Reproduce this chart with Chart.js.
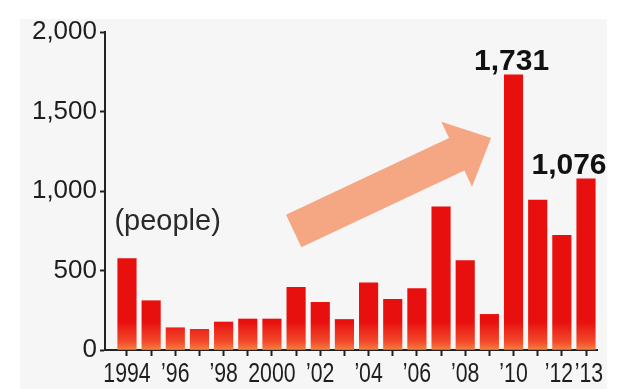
<!DOCTYPE html>
<html><head><meta charset="utf-8">
<script src="https://cdn.jsdelivr.net/npm/chart.js@4.4.1/dist/chart.umd.min.js"></script>
<style>
html,body{margin:0;padding:0;background:#fff;}
#bg{position:absolute;left:20px;top:19px;width:587px;height:370px;background:#f6f6f6;}
#wrap{position:absolute;left:0;top:0;width:621px;height:389px;}
</style></head><body>
<div id="bg"></div>
<div id="wrap"><canvas id="c" width="621" height="389"></canvas></div>
<script>
const years = [1994,1995,1996,1997,1998,1999,2000,2001,2002,2003,2004,2005,2006,2007,2008,2009,2010,2011,2012,2013];
const people = [575,310,140,130,176,195,195,394,300,192,423,319,386,901,562,224,1731,943,721,1076];
const xTickLabels = {1994:'1994',1996:'\u201996',1998:'\u201998',2000:'2000',2002:'\u201902',2004:'\u201904',2006:'\u201906',2008:'\u201908',2010:'\u201910',2012:'\u201912',2013:'\u201913'};
const yTicks = [0,500,1000,1500,2000];
const labeledYears = [2010,2013];
const labeledTexts = ['1,731','1,076'];
const unitLabel = '(people)';
const arrowFrom = {x:2000.9, y:748};
const arrowTo = {x:2009.07, y:1333};

// horizontally condense the x tick labels (reference uses a narrow face)
const xLabelSquash = {
  id:'xLabelSquash',
  beforeDraw(chart){
    const xs = chart.scales.x;
    if (!xs || xs._squashed) return;
    const orig = xs.drawLabels.bind(xs);
    xs.drawLabels = function(area){
      const ctx = this.ctx;
      const proto = Object.getPrototypeOf(ctx);
      ctx.rotate = function(a){ proto.rotate.call(this,a); proto.scale.call(this,0.76,1); };
      try { orig(area); } finally { delete ctx.rotate; }
    };
    xs._squashed = true;
  }
};

const overlay = {
  id:'overlay',
  afterDatasetsDraw(chart){
    const c = chart.ctx, xs = chart.scales.x, ys = chart.scales.y;
    const labelDx = [-2,-17];
    c.save();
    c.font = 'bold 30px "Liberation Sans", Arial, sans-serif';
    c.fillStyle = '#111';
    c.textAlign = 'center';
    c.textBaseline = 'alphabetic';
    labeledYears.forEach((yr,i)=>{
      const idx = years.indexOf(yr);
      c.fillText(labeledTexts[i], xs.getPixelForValue(yr)+labelDx[i], ys.getPixelForValue(people[idx])-5);
    });
    c.font = '29px "Liberation Sans", Arial, sans-serif';
    c.fillStyle = '#2a2a2a';
    c.textAlign = 'left';
    c.textBaseline = 'middle';
    c.fillText(unitLabel, xs.getPixelForValue(1993.48), ys.getPixelForValue(805));
    const x0 = xs.getPixelForValue(arrowFrom.x), y0 = ys.getPixelForValue(arrowFrom.y);
    const x1 = xs.getPixelForValue(arrowTo.x), y1 = ys.getPixelForValue(arrowTo.y);
    const L = Math.hypot(x1-x0,y1-y0), ux=(x1-x0)/L, uy=(y1-y0)/L, nx=-uy, ny=ux;
    const sw=18, hw=36, hl=38;
    const bx = x1-ux*hl, by = y1-uy*hl;
    c.beginPath();
    c.moveTo(x0+nx*sw, y0+ny*sw);
    c.lineTo(bx+nx*sw, by+ny*sw);
    c.lineTo(bx+nx*hw, by+ny*hw);
    c.lineTo(x1, y1);
    c.lineTo(bx-nx*hw, by-ny*hw);
    c.lineTo(bx-nx*sw, by-ny*sw);
    c.lineTo(x0-nx*sw, y0-ny*sw);
    c.closePath();
    c.fillStyle = '#f5a683';
    c.fill();
    c.restore();
  }
};

new Chart(document.getElementById('c'), {
  type:'bar',
  data:{datasets:[{
    data: years.map((y,i)=>({x:y,y:people[i]})),
    backgroundColor:(ctx)=>{
      const a = ctx.chart.chartArea;
      if(!a) return '#e8100f';
      const g = ctx.chart.ctx.createLinearGradient(0,a.bottom,0,a.bottom-28);
      g.addColorStop(0,'#f8803f');
      g.addColorStop(0.3,'#f24a2a');
      g.addColorStop(1,'#e8100f');
      return g;
    },
    borderWidth:0,
    barThickness:18.5
  }]},
  options:{
    responsive:false, animation:false,
    layout:{padding:{left:0,right:24,top:32,bottom:0}},
    plugins:{legend:{display:false},tooltip:{enabled:false}},
    scales:{
      x:{
        type:'linear', min:1993.09, max:2013.455, offset:false,
        afterBuildTicks:(s)=>{ s.ticks = years.map(v=>({value:v})); },
        afterFit:(s)=>{ s.height = 39; },
        grid:{display:true, offset:false, drawOnChartArea:false, drawTicks:true, tickLength:6, tickColor:'#222', tickWidth:2},
        border:{display:true, color:'#222', width:2},
        ticks:{autoSkip:false, maxRotation:0, minRotation:0, padding:1, color:'#1e1e1e',
          font:{family:'"Liberation Sans", Arial, sans-serif', size:28},
          callback:(v)=>{
            const t = xTickLabels[v]||'';
            if (v === years[years.length-1]) return ' ' + t;
            if (v === years[years.length-2]) return t + ' ';
            return t;
          }}
      },
      y:{
        min:0, max:2000,
        afterBuildTicks:(s)=>{ s.ticks = yTicks.map(v=>({value:v})); },
        afterFit:(s)=>{ s.width = 105; },
        grid:{drawOnChartArea:false, tickLength:5, tickColor:'#222', tickWidth:2},
        border:{color:'#222', width:2},
        ticks:{padding:3, color:'#1e1e1e', font:{family:'"Liberation Sans", Arial, sans-serif', size:26},
          callback:(v)=>v.toLocaleString('en-US')}
      }
    }
  },
  plugins:[xLabelSquash, overlay]
});
</script>
</body></html>
